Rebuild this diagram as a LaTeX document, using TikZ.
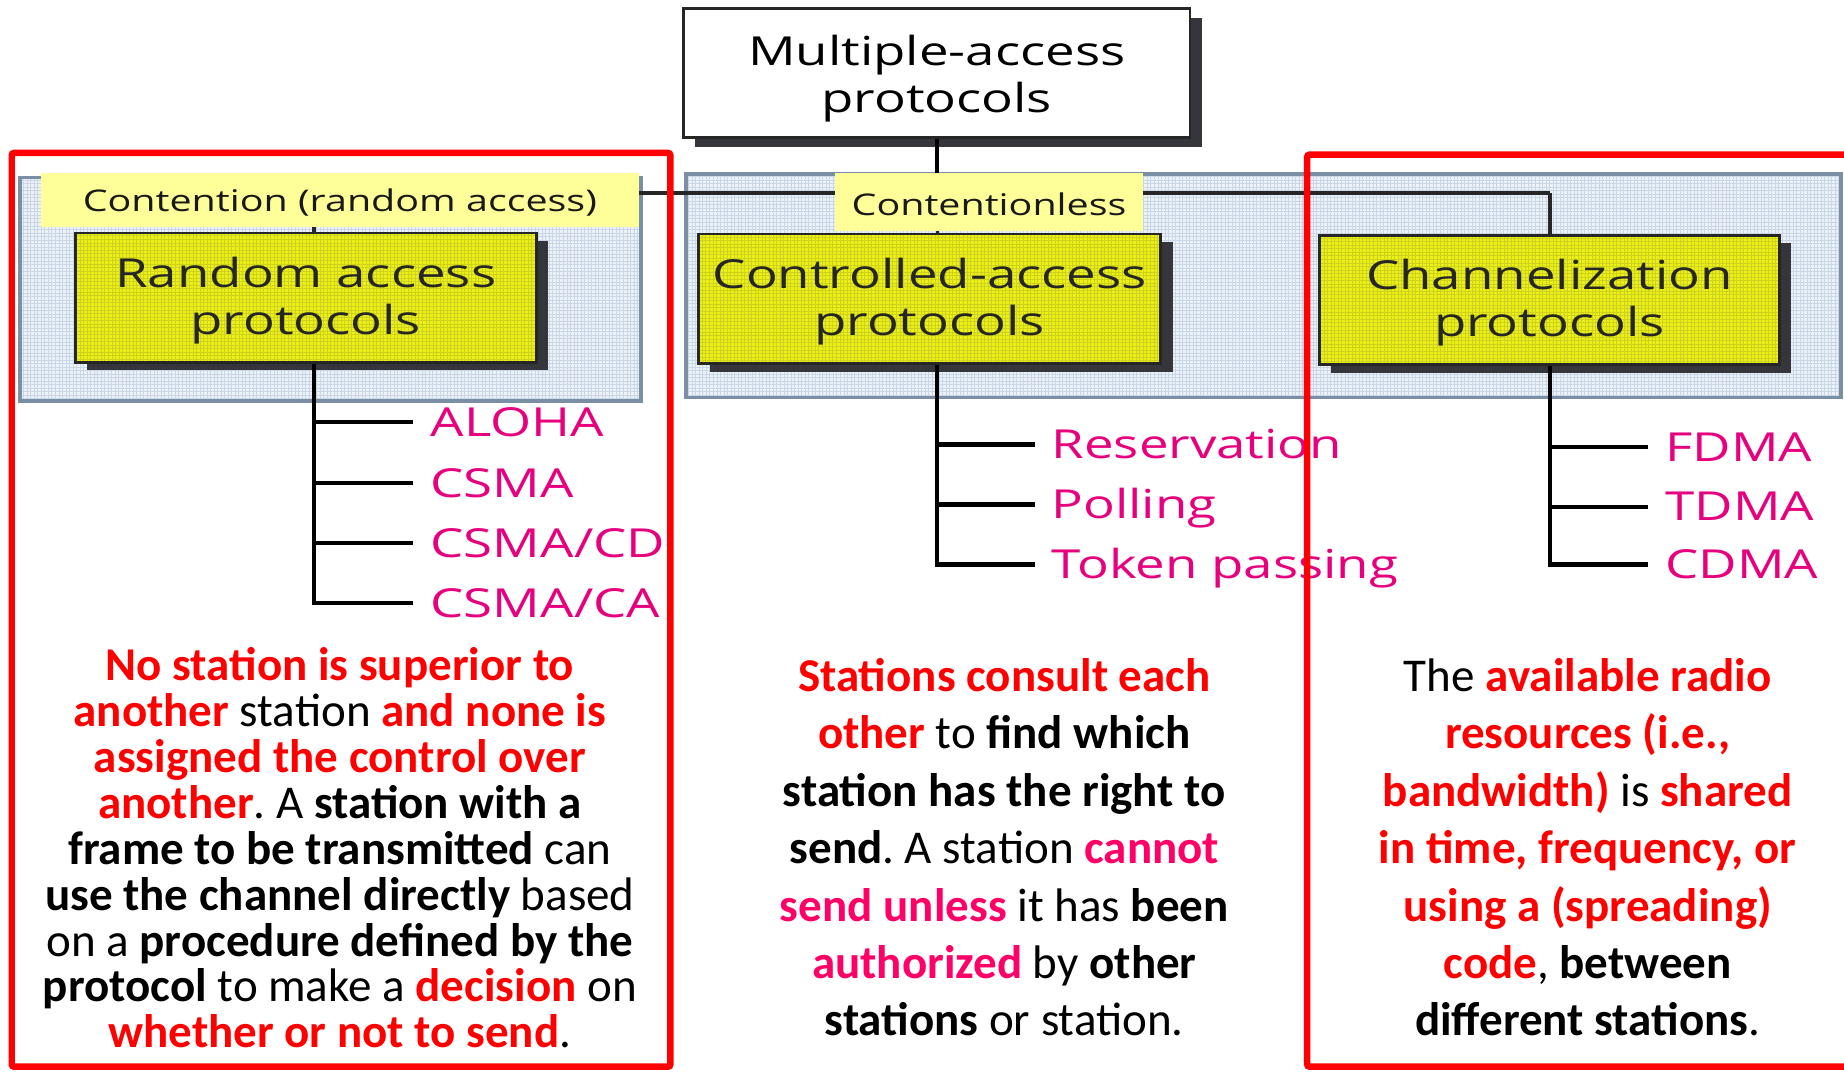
\documentclass[tikz,border=0pt]{standalone}
\usepackage{fontspec}
\setmainfont{Carlito}
\newfontfamily\figfont[FakeStretch=1.32]{Open Sans}
\usetikzlibrary{shadows}
\frenchspacing
\definecolor{txtred}{RGB}{255,0,0}
\definecolor{txtpink}{RGB}{255,0,102}
\definecolor{labmag}{RGB}{230,0,126}
\definecolor{boxyellow}{RGB}{236,240,20}
\definecolor{boxgrid}{RGB}{205,210,30}
\definecolor{paleyellow}{RGB}{255,255,153}
\definecolor{panelfill}{RGB}{236,242,248}
\definecolor{panelgrid}{RGB}{200,214,230}
\definecolor{panelborder}{RGB}{122,143,163}
\definecolor{shadowc}{RGB}{52,54,60}
\definecolor{framered}{RGB}{255,0,0}
\newcommand\redb[1]{\textbf{\color{txtred}#1}}
\newcommand\pinkb[1]{\textbf{\color{txtpink}#1}}
\newcommand\topstrut[1]{\rule{0pt}{#1}}
\tikzset{
  panel/.style={draw=panelborder, line width=3pt, fill=panelfill, inner sep=0pt,
    path picture={\draw[panelgrid, line width=0.5pt, step=3pt]
      (path picture bounding box.south west) grid (path picture bounding box.north east);}},
  topbox/.style={draw=black!85, line width=2.2pt, fill=white, inner sep=0pt,
    align=center, text=black, font=\figfont\fontsize{34}{40}\selectfont,
    drop shadow={shadow xshift=10pt, shadow yshift=-8pt, fill=shadowc, opacity=1}},
  ybox/.style={draw=black!85, line width=2.2pt, fill=boxyellow, inner sep=0pt,
    minimum height=110pt, align=center, text=black!85,
    font=\figfont\fontsize{34}{40}\selectfont,
    path picture={\draw[boxgrid, line width=0.4pt, step=3pt]
      (path picture bounding box.south west) grid (path picture bounding box.north east);},
    drop shadow={shadow xshift=10pt, shadow yshift=-7pt, fill=shadowc, opacity=1}},
  tag/.style={fill=paleyellow, inner sep=0pt, text=black!90, text depth=1pt,
    font=\figfont\fontsize{25.4}{28}\selectfont},
  lbl/.style={anchor=west, inner sep=0pt, text height=24pt, text depth=0pt,
    text=labmag, font=\figfont\fontsize{34}{40}\selectfont},
  conn/.style={draw=black, line width=3.6pt},
  hconn/.style={draw=black!85, line width=3pt},
  frame/.style={draw=framered, line width=5.5pt, rounded corners=2pt, inner sep=0pt},
  body/.style={align=center, inner sep=0pt, text=black}
}
\begin{document}
\begin{tikzpicture}[x=1pt, y=-1pt]
\useasboundingbox (0,0) rectangle (1568,911);

% panels
\node[panel, minimum width=528pt, minimum height=190pt] (panelL) at (281,246) {};
\node[panel, minimum width=982pt, minimum height=190pt] (panelR) at (1074.5,243) {};

% junctions
\coordinate (hubL) at (267,164);
\coordinate (hubM) at (797,164);
\coordinate (hubR) at (1318,164);

% top box
\node[topbox, minimum width=431pt, minimum height=110pt] (top) at (796.5,62)
  {\topstrut{36pt}Multiple-access\\protocols};

% connectors between levels
\draw[conn] (top.south -| hubM) -- (hubM);
\draw[hconn] (hubL) -- (hubR);
\draw[hconn] (hubL) -- ++(0,40);
\draw[hconn] (hubM) -- ++(0,40);
\draw[hconn] (hubR) -- ++(0,40);

% tags
\node[tag, text height=21pt, minimum width=508pt, minimum height=46pt] (tagL) at (289,170) {Contention (random access)};
\node[tag, text height=24pt, minimum width=262pt, minimum height=49pt] (tagR) at (841,171.5) {Contentionless};

% yellow boxes
\node[ybox, minimum width=392pt] (rand) at (260,253) {\topstrut{31pt}Random access\\protocols};
\node[ybox, minimum width=393pt] (ctrl) at (790.5,254) {\topstrut{31pt}Controlled-access\\protocols};
\node[ybox, minimum width=391pt] (chan) at (1317.5,255) {\topstrut{31pt}Channelization\\protocols};

% leaf labels
\node[lbl] (aloha) at (366,359) {ALOHA};
\node[lbl] (csma) at (366,411) {CSMA};
\node[lbl] (csmacd) at (366,462) {CSMA/CD};
\node[lbl] (csmaca) at (366,513) {CSMA/CA};
\node[lbl] (resv) at (894,378) {Reservation};
\node[lbl] (poll) at (894,429) {Polling};
\node[lbl] (token) at (894,480) {Token passing};
\node[lbl] (fdma) at (1416,380) {FDMA};
\node[lbl] (tdma) at (1416,431) {TDMA};
\node[lbl] (cdma) at (1416,480) {CDMA};

% leaf connectors
\draw[conn] (rand.south -| hubL) |- ([xshift=-15pt]csmaca.west);
\draw[conn] (aloha.west -| hubL) -- ([xshift=-15pt]aloha.west);
\draw[conn] (csma.west -| hubL) -- ([xshift=-15pt]csma.west);
\draw[conn] (csmacd.west -| hubL) -- ([xshift=-15pt]csmacd.west);
\draw[conn] (ctrl.south -| hubM) |- ([xshift=-14pt]token.west);
\draw[conn] (resv.west -| hubM) -- ([xshift=-14pt]resv.west);
\draw[conn] (poll.west -| hubM) -- ([xshift=-14pt]poll.west);
\draw[conn] (chan.south -| hubR) |- ([xshift=-15pt]cdma.west);
\draw[conn] (fdma.west -| hubR) -- ([xshift=-15pt]fdma.west);
\draw[conn] (tdma.west -| hubR) -- ([xshift=-15pt]tdma.west);

% body texts
\node[body, font=\fontsize{40}{39}\selectfont] (txtL) at (289,721) {%
\redb{No station is superior to}\\
\redb{another} station \redb{and none is}\\
\redb{assigned the control over}\\
\redb{another}. A \textbf{station with a}\\
\textbf{frame to be transmitted} can\\
\textbf{use the channel directly} based\\
on a \textbf{procedure defined by the}\\
\textbf{protocol} to make a \redb{decision} on\\
\redb{whether or not to send}.};

\node[body, font=\fontsize{40}{48.8}\selectfont] (txtM) at (854,720.5) {%
\redb{Stations consult each}\\
\redb{other} to \textbf{find which}\\
\textbf{station has the right to}\\
\textbf{send}. A station \pinkb{cannot}\\
\pinkb{send unless} it has \textbf{been}\\
\pinkb{authorized} by \textbf{other}\\
\textbf{stations} or station.};

\node[body, font=\fontsize{40}{48.8}\selectfont] (txtR) at (1350,720.5) {%
The \redb{available radio}\\
\redb{resources (i.e.,}\\
\redb{bandwidth)} is \redb{shared}\\
\redb{in time, frequency, or}\\
\redb{using a (spreading)}\\
\redb{code}, \textbf{between}\\
\textbf{different stations}.};

% red frames
\node[frame, minimum width=560pt, minimum height=777pt] (frameL) at (290,518.5) {};
\node[frame, minimum width=470pt, minimum height=775.5pt] (frameR) at (1346.5,519.25) {};
\end{tikzpicture}
\end{document}
